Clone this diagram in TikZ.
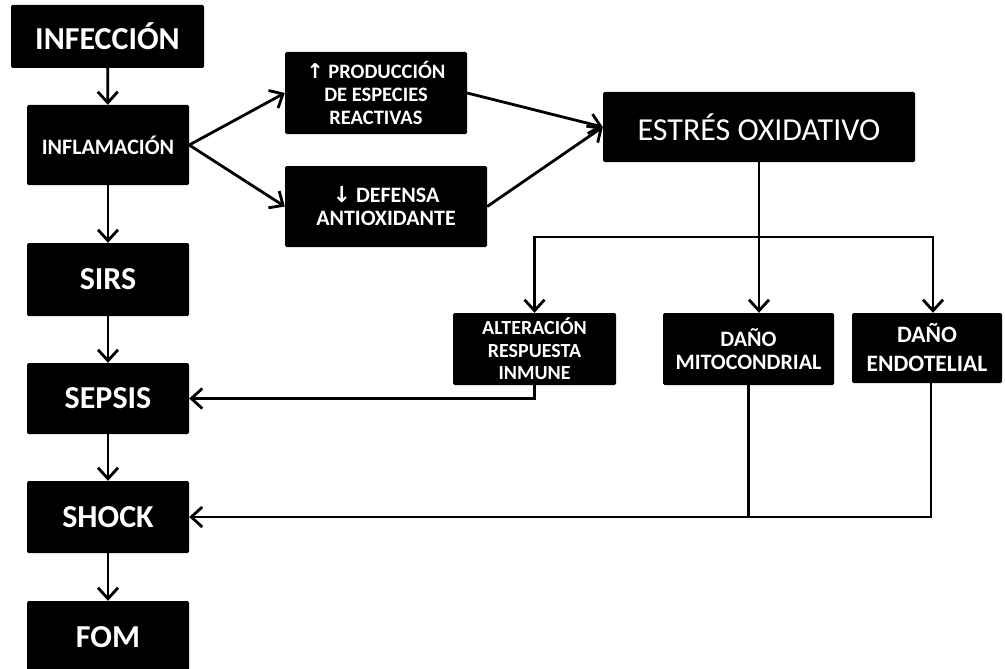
\documentclass[tikz,border=0pt]{standalone}
\usepackage{fontspec}
\setmainfont{Carlito}
\newfontfamily\arrowfont{DejaVu Sans}
\usetikzlibrary{arrows.meta}
\tikzset{
	box/.style={fill=black,text=white,rounded corners=1.5pt,inner sep=0pt,align=center},
	bigtext/.style={font=\bfseries\fontsize{32}{36}\selectfont},
	link/.style={line width=2.8pt,-{Straight Barb[length=11pt,width=20pt]}},
	plain/.style={line width=2.8pt}
}
\begin{document}
\begin{tikzpicture}[x=1pt,y=-1pt]
	\useasboundingbox(0,0)rectangle(1005,669);
	\node[box,bigtext,minimum width=193pt,minimum height=63pt](infeccion)at(107.5,36.5){INFECCIÓN};
	\node[box,font=\bfseries\fontsize{22}{26}\selectfont,minimum width=162pt,minimum height=80pt](inflamacion)at(108,145){INFLAMACIÓN};
	\node[box,bigtext,minimum width=162pt,minimum height=73pt](sirs)at(108,279.5){SIRS};
	\node[box,bigtext,minimum width=162pt,minimum height=71pt](sepsis)at(108,398.5){SEPSIS};
	\node[box,bigtext,minimum width=162pt,minimum height=72pt](shock)at(108,517){SHOCK};
	\node[box,bigtext,minimum width=162pt,minimum height=72pt](fom)at(108,637){FOM};
	\node[box,font=\bfseries\fontsize{20.5}{23}\selectfont,minimum width=182pt,minimum height=82pt](produccion)at(376,93){{\arrowfont\bfseries↑} PRODUCCIÓN\\DE ESPECIES\\REACTIVAS};
	\node[box,font=\bfseries\fontsize{22}{23}\selectfont,minimum width=202pt,minimum height=81pt](defensa)at(386,206.5){{\arrowfont\bfseries↓} DEFENSA\\ANTIOXIDANTE};
	\node[box,font=\fontsize{32}{36}\selectfont,minimum width=312pt,minimum height=70pt](estres)at(759,127){ESTRÉS OXIDATIVO};
	\node[box,font=\bfseries\fontsize{20}{22.5}\selectfont,minimum width=163pt,minimum height=72pt](alteracion)at(534.5,349){ALTERACIÓN\\RESPUESTA\\INMUNE};
	\node[box,font=\bfseries\fontsize{22}{23}\selectfont,minimum width=171pt,minimum height=72pt](mito)at(748.5,349){DAÑO\\MITOCONDRIAL};
	\node[box,font=\bfseries\fontsize{23.5}{29}\selectfont,minimum width=150pt,minimum height=70pt](endo)at(927,348){DAÑO\\ENDOTELIAL};
	\coordinate(split)at(estres.south|-0,237);
	\coordinate(endoin)at([xshift=6pt]endo.north);
	\coordinate(endoout)at([xshift=4pt]endo.south);
	\draw[link](infeccion)--(inflamacion);
	\draw[link](inflamacion)--(sirs);
	\draw[link](sirs)--(sepsis);
	\draw[link](sepsis)--(shock);
	\draw[link](shock)--(fom);
	\draw[link](inflamacion.east)--(produccion.west);
	\draw[link](inflamacion.east)--(defensa.west);
	\draw[link](produccion.east)--(estres.west);
	\draw[link](defensa.east)--(estres.west);
	\draw[link](estres.south)--(split)--(split|-mito.north);
	\draw[link](split)-|(alteracion.north);
	\draw[link](split)-|(endoin);
	\draw[link](alteracion.south)|-(sepsis.east);
	\draw[link](endoout)|-(shock.east);
	\draw[plain](mito.south)--(mito.south|-shock.east);
\end{tikzpicture}
\end{document}
